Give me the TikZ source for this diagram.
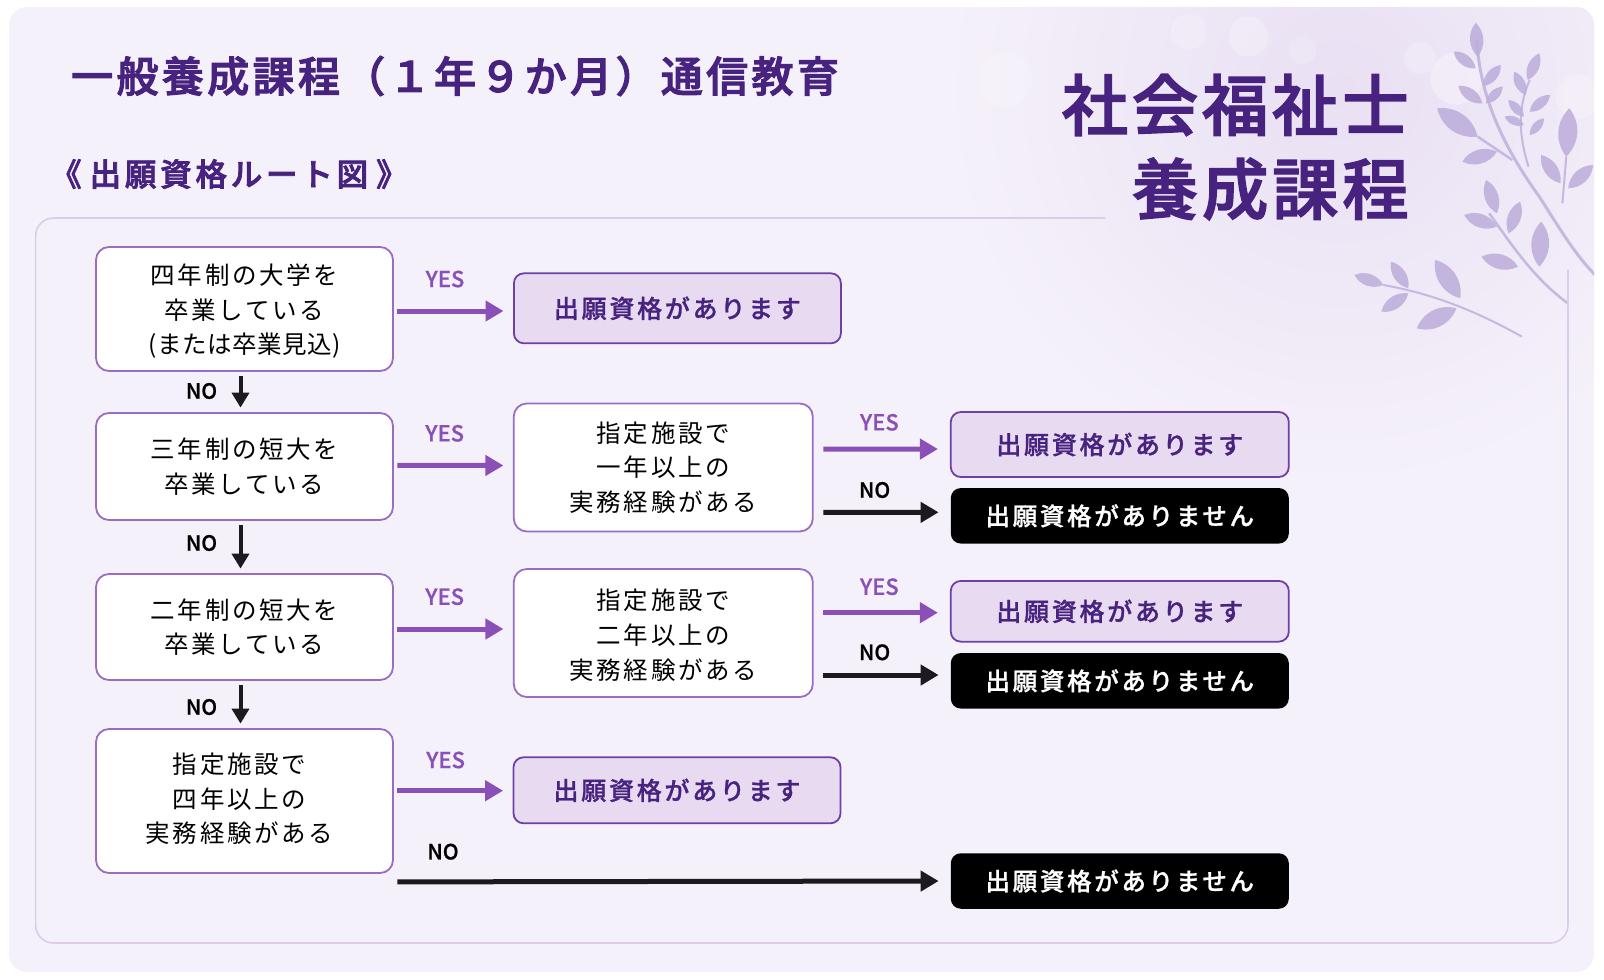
\documentclass[tikz,border=0pt]{standalone}
\usepackage{fontspec}
\setmainfont{Noto Sans CJK JP}
\newfontfamily\boxfont[LetterSpace=11]{Noto Sans CJK JP}
\newfontfamily\tightfont[LetterSpace=2]{Noto Sans CJK JP}
\newfontfamily\resfont[LetterSpace=11,FakeBold=1]{Noto Sans CJK JP Medium}
\newfontfamily\labelfont[FakeBold=.8]{Noto Sans CJK JP Medium}
\newfontfamily\headfont[LetterSpace=8,FakeBold=2.5]{Noto Sans CJK JP Medium}
\newfontfamily\routefont[LetterSpace=12,FakeBold=2.5]{Noto Sans CJK JP Medium}
\newfontfamily\bigfont[LetterSpace=5.5,FakeBold=2]{Noto Sans CJK JP Medium}
\usetikzlibrary{arrows.meta,positioning}
\definecolor{panelbg}{HTML}{F5F1FA}
\definecolor{paneltint}{HTML}{E9E0F3}
\definecolor{framec}{HTML}{DCCBEA}
\definecolor{titlec}{HTML}{47237F}
\definecolor{borderc}{HTML}{9A6CC2}
\definecolor{yesfill}{HTML}{E8DAF0}
\definecolor{yesborder}{HTML}{6F3FA8}
\definecolor{yesc}{HTML}{8A50B8}
\definecolor{noc}{HTML}{1C1A1E}
\definecolor{leafc}{HTML}{BDAEDB}
\definecolor{stemc}{HTML}{C6B8E0}
\newcommand{\leaf}[2]{\fill[leafc,opacity=.88] (#1) to[bend left=42] (#2) to[bend left=42] (#1);}
\newcommand{\nudge}[3]{\raisebox{#2}[\height][\depth]{#3\kern#1}}
\begin{document}
\begin{tikzpicture}[x=1pt,y=-1pt]
\tikzstyle{qbox}=[draw=borderc,fill=white,line width=1.8pt,rounded corners=13pt,
inner sep=0pt,minimum width=297pt,align=center,
font=\boxfont\fontsize{24.5}{34.6}\selectfont,text=black]
\tikzstyle{yesbox}=[draw=yesborder,fill=yesfill,line width=1.8pt,rounded corners=10pt,
inner sep=0pt,font=\resfont\fontsize{25}{30}\selectfont,text=titlec]
\tikzstyle{nobox}=[fill=black,rounded corners=10pt,inner sep=0pt,minimum width=338pt,
minimum height=55.5pt,font=\resfont\fontsize{24.5}{30}\selectfont,text=white]
\tikzstyle{yesline}=[draw=yesc,line width=5pt,-{Triangle[width=20pt,length=18pt]},shorten <=3.5pt]
\tikzstyle{noline}=[draw=noc,line width=5pt,-{Triangle[width=20pt,length=18pt]},shorten <=3.5pt]
\tikzstyle{downline}=[draw=noc,line width=4pt,-{Triangle[width=17pt,length=15pt]},shorten <=4.5pt,shorten >=4.5pt]
\tikzstyle{yeslabel}=[font=\labelfont\fontsize{22}{24}\selectfont,text=yesc,inner sep=0pt]
\tikzstyle{nolabel}=[font=\labelfont\fontsize{21}{24}\selectfont,text=black,inner sep=0pt]

\useasboundingbox (0,0) rectangle (1604,980);
% panel and tinted corner
\fill[panelbg,rounded corners=18pt] (9,7) rectangle (1594,972);
\begin{scope}
\clip[rounded corners=18pt] (9,7) rectangle (1594,972);
\shade[inner color=paneltint,outer color=panelbg] (1340,90) circle (400pt);
% bokeh and leaves, in the units of the corner crop
\begin{scope}[shift={(1000,0)},x=.3852pt,y=-.3333pt]
\fill[white,opacity=.2] (15,240) circle (27pt);
\fill[white,opacity=.2] (490,95) circle (18pt);
\fill[white,opacity=.25] (645,110) circle (20pt);
\fill[white,opacity=.15] (785,150) circle (14pt);
\fill[white,opacity=.2] (1090,175) circle (16pt);
\fill[white,opacity=.3] (1185,235) circle (26pt);
\fill[white,opacity=.2] (1500,290) circle (22pt);
\draw[stemc,line width=3pt] (1238,120) .. controls (1245,280) and (1300,430) .. (1400,590)
 .. controls (1450,680) and (1490,760) .. (1545,825);
\draw[stemc,line width=2.5pt] (1240,410) -- (1330,480);
\draw[stemc,line width=2pt] (1375,240) .. controls (1345,320) and (1345,400) .. (1372,500);
\draw[stemc,line width=2pt] (1470,470) -- (1460,610);
\draw[stemc,line width=2.5pt] (1270,640) .. controls (1320,720) and (1380,830) .. (1474,910);
\draw[stemc,line width=2pt] (995,855) .. controls (1090,875) and (1200,910) .. (1355,1010);
\leaf{1235,68}{1240,170}
\leaf{1178,155}{1235,205}
\leaf{1190,258}{1252,310}
\leaf{1300,195}{1255,258}
\leaf{1305,260}{1262,310}
\leaf{1400,160}{1370,240}
\leaf{1335,215}{1365,285}
\leaf{1428,285}{1375,335}
\leaf{1320,300}{1360,350}
\leaf{1310,350}{1360,375}
\leaf{1412,355}{1375,405}
\leaf{1135,325}{1240,410}
\leaf{1200,485}{1290,455}
\leaf{1478,325}{1470,470}
\leaf{1405,465}{1455,550}
\leaf{1540,495}{1475,565}
\leaf{1262,540}{1290,640}
\leaf{1350,605}{1320,700}
\leaf{1205,645}{1290,680}
\leaf{1405,665}{1400,800}
\leaf{1250,770}{1345,800}
\leaf{920,825}{995,855}
\leaf{1015,785}{1060,865}
\leaf{1130,780}{1195,895}
\leaf{990,935}{1060,880}
\leaf{1082,985}{1185,925}
\end{scope}
\end{scope}
\draw[framec,line width=1.6pt,rounded corners=18pt] (1105,218) -- (35.6,218) -- (35.6,943) -- (1568,943) -- (1568,270);

% titles
\node[anchor=west,inner sep=0pt,text=titlec,font=\headfont\fontsize{42}{46}\selectfont] at (71,76) (title) {一般養成課程（１年９か月）通信教育};
\node[anchor=west,inner sep=0pt,text=titlec,font=\routefont\fontsize{31.5}{36}\selectfont] at (50,174) (route) {《\hspace{8pt}出願資格ルート図\hspace{8pt}》};
\node[anchor=east,inner sep=0pt,text=titlec,font=\bigfont\fontsize{66.5}{72}\selectfont] at (1409,105) (big1) {社会福祉士};
\node[anchor=east,inner sep=0pt,text=titlec,font=\bigfont\fontsize{66.5}{72}\selectfont] at (1409,189) (big2) {養成課程};

% left column
\node[qbox,minimum height=124pt] at (244.5,309) (q1) {\nudge{0pt}{-2pt}{四年制の大学を}\\\nudge{0pt}{-3pt}{卒業している}\\\nudge{0pt}{-2pt}{\tightfont(または卒業見込)}};
\node[qbox,minimum height=107pt,below of=q1,node distance=157.5pt] (q2) {三年制の短大を\\卒業している};
\node[qbox,minimum height=106pt,below of=q2,node distance=160.5pt] (q3) {二年制の短大を\\卒業している};
\node[qbox,minimum height=144pt,below of=q3,node distance=174pt] (q4) {\nudge{10pt}{2pt}{指定施設で}\\\nudge{10pt}{2pt}{四年以上の}\\\nudge{10pt}{2pt}{実務経験がある}};

% middle column
\node[qbox,minimum width=299pt,minimum height=128pt,right of=q2,node distance=418.8pt,yshift=-1pt] (m2) {指定施設で\\一年以上の\\実務経験がある};
\node[qbox,minimum width=299pt,minimum height=128pt,right of=q3,node distance=418.8pt,yshift=-6pt] (m3) {\nudge{0pt}{-2pt}{指定施設で}\\\nudge{0pt}{-2pt}{二年以上の}\\\nudge{0pt}{-3pt}{実務経験がある}};
\node[yesbox,minimum width=327pt,minimum height=70pt] at (677.4,308.3) (r1) {出願資格があります};
\node[yesbox,minimum width=327pt,minimum height=66pt] at (677,790.3) (r4y) {出願資格があります};

% right column
\node[yesbox,minimum width=338pt,minimum height=65pt] at (1119.8,444.5) (r2y) {出願資格があります};
\node[nobox] at (1119.8,515.8) (r2n) {出願資格がありません};
\node[yesbox,minimum width=338pt,minimum height=60.7pt] at (1119.8,611.3) (r3y) {出願資格があります};
\node[nobox] at (1119.8,680.8) (r3n) {出願資格がありません};
\node[nobox] at (1119.8,881) (r4n) {出願資格がありません};

% labels
\node[yeslabel] at (445,279) (yes1) {YES};
\node[yeslabel] at (444.7,433.3) (yes2) {YES};
\node[yeslabel] at (444.7,596.7) (yes3) {YES};
\node[yeslabel] at (445.6,760) (yes4) {YES};
\node[yeslabel] at (879.4,422.3) (yes5) {YES};
\node[yeslabel] at (879.4,586.7) (yes6) {YES};
\node[nolabel] at (201.5,391) (no1) {NO};
\node[nolabel] at (201.5,543) (no2) {NO};
\node[nolabel] at (201.5,707) (no3) {NO};
\node[nolabel] at (874.6,490) (no4) {NO};
\node[nolabel] at (874.6,652.3) (no5) {NO};
\node[nolabel] at (443,851.7) (no6) {NO};

% connectors
\path ([yshift=-2pt]q1.east) edge[yesline,shorten >=9.5pt] ([yshift=-2.7pt]r1.west);
\path ([yshift=1.2pt]q2.east) edge[yesline,shorten >=9.5pt] ([yshift=2pt]m2.west);
\path ([yshift=-2pt]q3.east) edge[yesline,shorten >=9.5pt] ([yshift=4pt]m3.west);
\path ([yshift=10.3pt]q4.east) edge[yesline,shorten >=9.5pt] ([yshift=-.4pt]r4y.west);
\path ([yshift=18.3pt]m2.east) edge[yesline,shorten <=9.6pt,shorten >=12pt] ([yshift=-4.5pt]r2y.west);
\path ([yshift=-45pt]m2.east) edge[noline,shorten <=9.6pt,shorten >=12pt] ([yshift=3.5pt]r2n.west);
\path ([yshift=20.3pt]m3.east) edge[yesline,shorten <=9.6pt,shorten >=12pt] ([yshift=-1.4pt]r3y.west);
\path ([yshift=-42pt]m3.east) edge[noline,shorten <=9.6pt,shorten >=12pt] ([yshift=5.8pt]r3n.west);
\path ([yshift=-8pt]q4.south east) edge[noline,shorten >=12pt] (r4n.west);
\path ([xshift=-4pt]q1.south) edge[downline] ([xshift=-4pt]q2.north);
\path ([xshift=-4pt]q2.south) edge[downline] ([xshift=-4pt]q3.north);
\path ([xshift=-4pt]q3.south) edge[downline] ([xshift=-4pt]q4.north);

\end{tikzpicture}
\end{document}
